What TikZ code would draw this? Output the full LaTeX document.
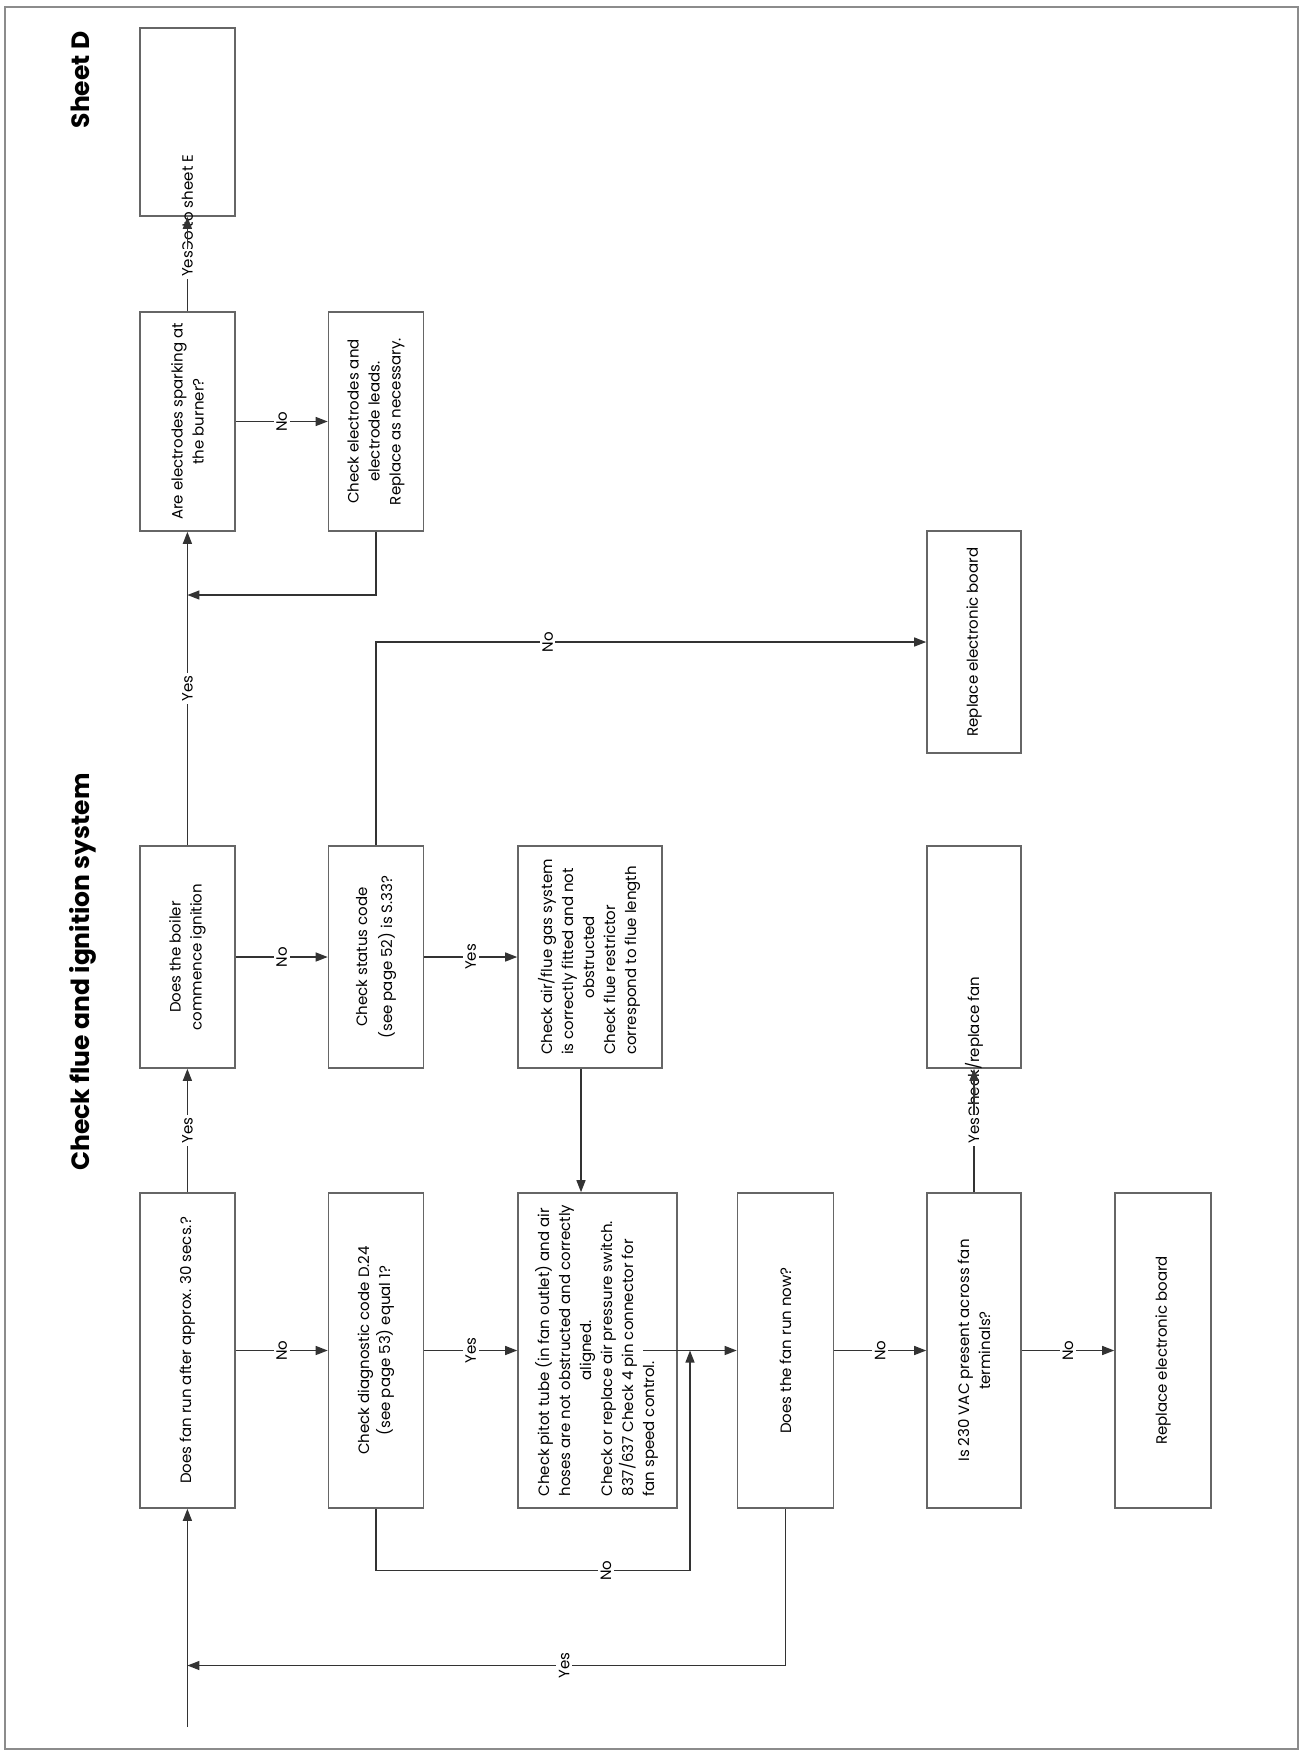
\documentclass[tikz,border=0pt]{standalone}
\usepackage{fontspec}
\setmainfont{Poppins}
\usetikzlibrary{arrows.meta,calc}
\newcommand{\boxcol}{black!60}
\newcommand{\linecol}{black!80}
\newcommand{\framecol}{black!45}
\pgfmathsetmacro{\colA}{187.4}
\pgfmathsetmacro{\colB}{376}
\pgfmathsetmacro{\colE}{974}
\pgfmathsetmacro{\rowC}{957}
\pgfmathsetmacro{\rowD}{1350.5}

\begin{document}
\begin{tikzpicture}[x=1pt,y=-1pt,
    box/.style={draw=\boxcol,line width=1.6pt,rotate=90,inner sep=0pt,
        align=center,font=\fontsize{15}{21}\selectfont},
    txt/.style={rotate=90,inner sep=0pt,font=\fontsize{15}{21}\selectfont},
    lbl/.style={fill=white,rotate=90,inner sep=2.5pt,font=\fontsize{15}{17}\selectfont},
    ttl/.style={rotate=90,anchor=base,inner sep=0pt,font=\fontsize{25}{30}\selectfont\bfseries},
    arr/.style={draw=\linecol,line width=1.3pt,-{Triangle[length=12pt,width=9pt]}}]

\useasboundingbox (0,0) rectangle (1300,1751);
\draw[\framecol,line width=2pt] (5,7) rectangle (1298,1749);

% titles
\node[ttl] (sheet) at (89,80) {Sheet D};
\node[ttl] (title) at (89,972) {Check flue and ignition system};

% top rows
\node[box,minimum width=188pt,minimum height=95pt] (gotoE) at (\colA,122) {};
\node[txt] (gotoText) at (\colA,203.6) {Go to sheet E};
\node[box,minimum width=219pt,minimum height=95pt] (spark) at (\colA,421.5)
    {Are electrodes sparking at\\the burner?};
\node[box,minimum width=219pt,minimum height=95pt] (elcheck) at (\colB,421.5)
    {Check electrodes and\\electrode leads.\\Replace as necessary.};
\node[box,minimum width=222pt,minimum height=94pt] (board1) at (\colE,642)
    {Replace electronic board};

% middle row
\node[box,minimum width=222pt,minimum height=95pt] (ignite) at (\colA,\rowC)
    {Does the boiler\\commence ignition};
\node[box,minimum width=222pt,minimum height=95pt] (status) at (\colB,\rowC)
    {Check status code\\[4pt](see page 52) is S.33?};
\node[box,minimum width=222pt,minimum height=144pt] (flue) at (590,\rowC)
    {\begin{tabular}{@{}l@{}}Check air/flue gas system\\is correctly fitted and not\\
    \multicolumn{1}{@{}c@{}}{obstructed}\\Check flue restrictor\\correspond to flue length\end{tabular}};
\node[box,minimum width=222pt,minimum height=94pt] (checkfan) at (\colE,\rowC) {};
\node[txt] (fanText) at (\colE,1047) {Check/replace fan};

% bottom row
\node[box,minimum width=315pt,minimum height=95pt] (fanq) at (\colA,\rowD)
    {Does fan run after approx. 30 secs.?};
\node[box,minimum width=315pt,minimum height=95pt] (diag) at (\colB,\rowD)
    {Check diagnostic code D.24\\(see page 53) equal 1?};
\node[box,minimum width=315pt,minimum height=159pt] (pitot) at (597.5,\rowD)
    {\begin{tabular}{@{}l@{}}Check pitot tube (in fan outlet) and air\\hoses are not obstructed and correctly\\
    \multicolumn{1}{@{}c@{}}{aligned.}\\Check or replace air pressure switch.\\
    837/637 Check 4 pin connector for\\fan speed control.\end{tabular}};
\node[box,minimum width=315pt,minimum height=96pt] (fanrun) at (785.5,\rowD)
    {Does the fan run now?};
\node[box,minimum width=315pt,minimum height=94pt] (vac) at (\colE,\rowD)
    {Is 230 VAC present across fan\\terminals?};
\node[box,minimum width=315pt,minimum height=96pt] (board2) at (1163,\rowD)
    {Replace electronic board};

% loop points
\coordinate (start) at (\colA,1727);
\coordinate (jspark) at (\colA,595);
\coordinate (jyes) at (\colA,1665.5);
\coordinate (nocorner) at (690,1570.5);
\coordinate (jfan) at (690,\rowD);

% arrows
\draw[arr] (start) -- (fanq);
\foreach \from/\to in {fanq/ignite,ignite/spark,spark/gotoE,vac/checkfan}
    \draw[arr] (\from) -- node[lbl]{Yes} (\to);
\foreach \from/\to/\ans in {fanq/diag/No,diag/pitot/Yes,fanrun/vac/No,vac/board2/No,
    ignite/status/No,status/flue/Yes,spark/elcheck/No}
    \draw[arr] (\from) -- node[lbl]{\ans} (\to);
\draw[arr] ($(flue.west)+(-9,0)$) -- ($(pitot.east)+(-16.5,0)$);
\draw[arr] ($(pitot.center)+(45.5,0)$) -- (fanrun);
\draw[arr] (elcheck.west) |- (jspark);
\draw[arr] (status.east) |- node[lbl,pos=0.656]{No} (board1);
\draw[arr] (diag.west) |- node[lbl,pos=0.866]{No} (nocorner) -- (jfan);
\draw[arr] (fanrun.west) |- node[lbl,pos=0.685]{Yes} (jyes);

\end{tikzpicture}
\end{document}
